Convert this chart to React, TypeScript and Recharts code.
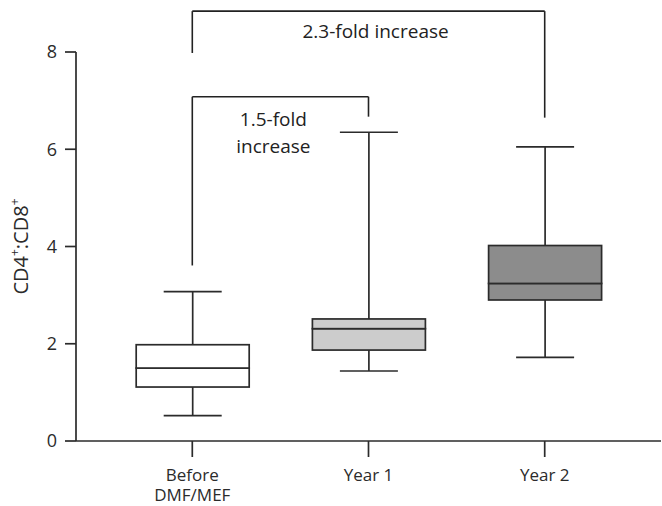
import React from 'react';
import { Bar, ComposedChart, ReferenceDot, ReferenceLine, XAxis, YAxis, Label } from 'recharts';

const categories = ['Before DMF/MEF', 'Year 1', 'Year 2'];
const mins = [0.52, 1.44, 1.72];
const q1s = [1.11, 1.87, 2.9];
const medians = [1.5, 2.31, 3.24];
const q3s = [1.98, 2.51, 4.02];
const maxs = [3.07, 6.35, 6.05];
const fills = ['#ffffff', '#cccccc', '#8c8c8c'];

// brackets: [from, to, top, left leg end, right leg end]
const brackets = [
  { from: 0, to: 2, top: 8.84, leftEnd: 7.98, rightEnd: 6.65 },
  { from: 0, to: 1, top: 7.08, leftEnd: 3.61, rightEnd: 6.67 },
];
const notes = [
  { x: 1.04, y: 8.28, text: '2.3-fold increase' },
  { x: 0.46, y: 6.47, text: '1.5-fold' },
  { x: 0.46, y: 5.92, text: 'increase' },
];

const data = categories.map((c, i) => ({
  pos: i,
  base: mins[i],
  lowW: q1s[i] - mins[i],
  lowBox: medians[i] - q1s[i],
  highBox: q3s[i] - medians[i],
  highW: maxs[i] - q3s[i],
}));

const INK = '#2b2b2b';
const FONT = '"Open Sans", sans-serif';
const CAP = 58;

const LowWhisker = (p: any) => {
  const cx = p.x + p.width / 2;
  const bottom = p.y + p.height;
  return (
    <g>
      <line x1={cx} x2={cx} y1={p.y} y2={bottom} stroke={INK} strokeWidth={1.7} />
      <line x1={cx - CAP / 2} x2={cx + CAP / 2} y1={bottom} y2={bottom} stroke={INK} strokeWidth={1.7} />
    </g>
  );
};

const HighWhisker = (p: any) => {
  const cx = p.x + p.width / 2;
  return (
    <g>
      <line x1={cx} x2={cx} y1={p.y} y2={p.y + p.height} stroke={INK} strokeWidth={1.7} />
      <line x1={cx - CAP / 2} x2={cx + CAP / 2} y1={p.y} y2={p.y} stroke={INK} strokeWidth={1.7} />
    </g>
  );
};

const BoxPart = (p: any) => (
  <rect x={p.x} y={p.y} width={p.width} height={p.height} fill={fills[p.index]} stroke={INK} strokeWidth={1.7} />
);

const XTick = (p: any) => {
  const label = categories[p.payload.value] || '';
  const lines = label === 'Before DMF/MEF' ? ['Before', 'DMF/MEF'] : [label];
  return (
    <text x={p.x} y={p.y} textAnchor="middle" fill={INK} fontSize={17} fontFamily={FONT}>
      {lines.map((l, i) => (
        <tspan key={l} x={p.x} dy={i === 0 ? 24 : 20}>
          {l}
        </tspan>
      ))}
    </text>
  );
};

const YLabel = (p: any) => {
  const vb = p.viewBox;
  const cx = vb.x + 28;
  const cy = vb.y + vb.height / 2;
  return (
    <text x={cx} y={cy} transform={`rotate(-90 ${cx} ${cy})`} textAnchor="middle" fill={INK} fontSize={20} fontFamily={FONT}>
      CD4<tspan fontSize={12} dy={-9}>+</tspan>
      <tspan dy={9}>:CD8</tspan>
      <tspan fontSize={12} dy={-9}>+</tspan>
    </text>
  );
};

export default function App() {
  return (
    <div style={{ position: 'absolute', left: 0, top: 0, background: '#fff' }}>
      <ComposedChart width={662} height={506} data={data} margin={{ top: 52, right: 1, bottom: 0, left: 0 }}>
        <XAxis
          type="number"
          dataKey="pos"
          domain={[-0.66, 2.66]}
          ticks={[0, 1, 2]}
          allowDataOverflow
          height={65}
          tickSize={16}
          tickMargin={0}
          axisLine={{ stroke: INK, strokeWidth: 1.7 }}
          tickLine={{ stroke: INK, strokeWidth: 1.7 }}
          tick={<XTick />}
        />
        <YAxis
          domain={[0, 8]}
          ticks={[0, 2, 4, 6, 8]}
          width={76}
          tickSize={11}
          tickMargin={8}
          axisLine={{ stroke: INK, strokeWidth: 1.7 }}
          tickLine={{ stroke: INK, strokeWidth: 1.7 }}
          tick={{ fill: INK, fontSize: 18, fontFamily: FONT }}
        >
          <Label content={<YLabel />} />
        </YAxis>
        <Bar dataKey="base" stackId="b" fill="transparent" barSize={113} isAnimationActive={false} />
        <Bar dataKey="lowW" stackId="b" barSize={113} shape={<LowWhisker />} isAnimationActive={false} />
        <Bar dataKey="lowBox" stackId="b" barSize={113} shape={<BoxPart />} isAnimationActive={false} />
        <Bar dataKey="highBox" stackId="b" barSize={113} shape={<BoxPart />} isAnimationActive={false} />
        <Bar dataKey="highW" stackId="b" barSize={113} shape={<HighWhisker />} isAnimationActive={false} />
        {brackets.map((b, i) => [
          <ReferenceLine key={`l${i}`} ifOverflow="visible" stroke="#222" strokeWidth={1.6}
            segment={[{ x: b.from, y: b.leftEnd }, { x: b.from, y: b.top }]} />,
          <ReferenceLine key={`t${i}`} ifOverflow="visible" stroke="#222" strokeWidth={1.6}
            segment={[{ x: b.from, y: b.top }, { x: b.to, y: b.top }]} />,
          <ReferenceLine key={`r${i}`} ifOverflow="visible" stroke="#222" strokeWidth={1.6}
            segment={[{ x: b.to, y: b.top }, { x: b.to, y: b.rightEnd }]} />,
        ])}
        {notes.map((n) => (
          <ReferenceDot
            key={n.text}
            x={n.x}
            y={n.y}
            ifOverflow="visible"
            shape={(p: any) => (
              <text x={p.cx} y={p.cy} textAnchor="middle" fill="#222" fontSize={19} fontFamily={FONT}>
                {n.text}
              </text>
            )}
          />
        ))}
      </ComposedChart>
    </div>
  );
}
